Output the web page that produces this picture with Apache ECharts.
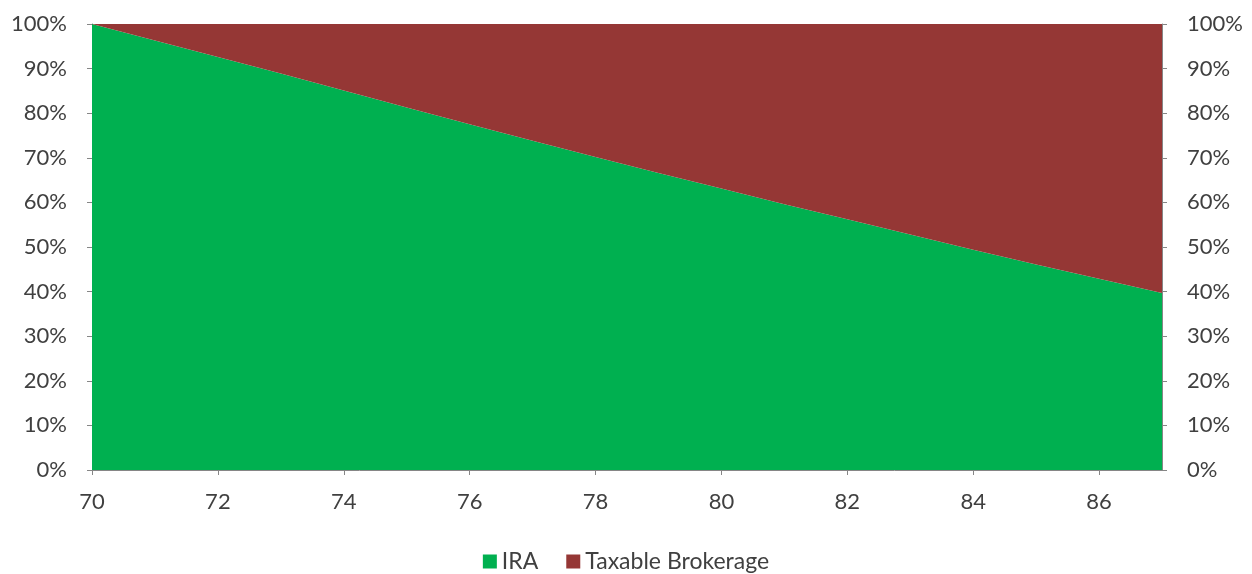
<!DOCTYPE html>
<html>
<head>
<meta charset="utf-8">
<script src="https://cdn.jsdelivr.net/npm/echarts@6/dist/echarts.min.js"></script>
<style>
  html, body { margin: 0; padding: 0; background: #fff; }
  #chart { width: 1252px; height: 574px; }
</style>
</head>
<body>
<div id="chart"></div>
<script>
  // ages on the x axis
  var ages = [70, 71, 72, 73, 74, 75, 76, 77, 78, 79, 80, 81, 82, 83, 84, 85, 86, 87];
  // share of the portfolio, in percent
  var iraShare = [100, 96.3, 92.6, 88.9, 85.1, 81.3, 77.5, 73.8, 70.2, 66.6, 63.1, 59.6, 56.2, 52.8, 49.4, 46.1, 42.9, 39.7];
  var taxableShare = [0, 3.7, 7.4, 11.1, 14.9, 18.7, 22.5, 26.2, 29.8, 33.4, 36.9, 40.4, 43.8, 47.2, 50.6, 53.9, 57.1, 60.3];
  var seriesNames = ['IRA', 'Taxable Brokerage'];

  var axisGrey = '#868686';
  var textColor = '#404040';
  var fontFamily = 'Lato, "Open Sans", sans-serif';

  var myChart = echarts.init(document.getElementById('chart'));

  function percentAxis (position) {
    return {
      type: 'value',
      position: position,
      min: 0,
      max: 100,
      interval: 10,
      axisLine: { show: true, lineStyle: { color: axisGrey, width: 1 } },
      axisTick: { show: true, inside: false, length: 5, lineStyle: { color: axisGrey } },
      splitLine: { show: false },
      axisLabel: {
        formatter: '{value}%',
        color: textColor,
        fontFamily: fontFamily,
        fontSize: 22,
        margin: 25
      }
    };
  }

  myChart.setOption({
    animation: false,
    grid: {
      left: 92,
      right: 90,
      top: 24,
      bottom: 104,
      containLabel: false
    },
    legend: {
      top: 545,
      left: 'center',
      itemWidth: 14,
      itemHeight: 14,
      itemGap: 28,
      icon: 'rect',
      textStyle: { color: textColor, fontFamily: fontFamily, fontSize: 23 },
      data: seriesNames
    },
    xAxis: {
      type: 'category',
      boundaryGap: false,
      data: ages,
      axisLine: { show: true, lineStyle: { color: axisGrey, width: 1 } },
      axisTick: { show: true, alignWithLabel: true, interval: 1, length: 5, lineStyle: { color: axisGrey } },
      axisLabel: {
        interval: 1,
        color: textColor,
        fontFamily: fontFamily,
        fontSize: 22,
        margin: 21
      }
    },
    yAxis: [percentAxis('left'), percentAxis('right')],
    series: [
      {
        name: seriesNames[0],
        type: 'line',
        stack: 'total',
        showSymbol: false,
        lineStyle: { width: 0 },
        areaStyle: { color: '#00B050', opacity: 1 },
        itemStyle: { color: '#00B050' },
        data: iraShare
      },
      {
        name: seriesNames[1],
        type: 'line',
        stack: 'total',
        showSymbol: false,
        lineStyle: { width: 0 },
        areaStyle: { color: '#953735', opacity: 1 },
        itemStyle: { color: '#953735' },
        data: taxableShare
      }
    ]
  });
</script>
</body>
</html>
